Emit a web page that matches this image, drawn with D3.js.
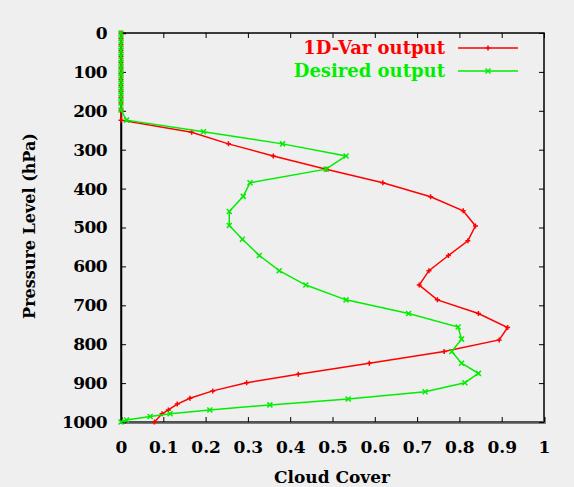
<!DOCTYPE html>
<html>
<head>
<meta charset="utf-8">
<script src="https://cdn.jsdelivr.net/npm/d3@7"></script>
<style>
  body { margin: 0; background: #efefef; }
  svg { display: block; }
  text { font-family: "DejaVu Serif", "Liberation Serif", serif; font-weight: bold; }
</style>
</head>
<body>
<svg id="chart" width="574" height="487"></svg>
<script>
// pressure levels (hPa) and cloud cover for each profile
const varPressure = [0, 15, 30, 45, 60, 75, 90, 105, 120, 135, 150, 165, 180, 198, 224, 255, 285, 316, 350, 385, 421, 457, 496, 534, 572, 611, 648, 686, 721, 757, 789, 819, 849, 877, 899, 920, 939, 954, 969, 979, 1000];
const varCloud = [0, 0, 0, 0, 0, 0, 0, 0, 0, 0, 0, 0, 0, 0, 0, 0.167, 0.254, 0.36, 0.485, 0.619, 0.732, 0.809, 0.838, 0.82, 0.774, 0.728, 0.705, 0.748, 0.845, 0.914, 0.894, 0.764, 0.587, 0.419, 0.297, 0.217, 0.163, 0.133, 0.112, 0.097, 0.079];

const desPressure = [0, 15, 30, 45, 60, 75, 90, 105, 120, 135, 150, 165, 180, 198, 224, 254, 285, 316, 350, 385, 420, 459, 495, 530, 572, 611, 648, 686, 721, 756, 787, 819, 849, 875, 899, 922, 941, 956, 969, 979, 986, 995, 1000];
const desCloud = [0, 0, 0, 0, 0, 0, 0, 0, 0, 0, 0, 0, 0, 0, 0.013, 0.195, 0.382, 0.532, 0.485, 0.305, 0.289, 0.256, 0.256, 0.287, 0.327, 0.374, 0.437, 0.532, 0.68, 0.797, 0.805, 0.782, 0.805, 0.845, 0.813, 0.719, 0.537, 0.352, 0.21, 0.116, 0.069, 0.013, 0];

const xTicks = [0, 0.1, 0.2, 0.3, 0.4, 0.5, 0.6, 0.7, 0.8, 0.9, 1];
const yTicks = [0, 100, 200, 300, 400, 500, 600, 700, 800, 900, 1000];

const series = [
  { name: "1D-Var output", color: "#ff0000", mark: "plus", p: varPressure, c: varCloud },
  { name: "Desired output", color: "#00ee00", mark: "cross", p: desPressure, c: desCloud }
];

const svg = d3.select("#chart");
const margin = { top: 33, right: 30, bottom: 65, left: 121 };
const width = 574, height = 487;

const x = d3.scaleLinear().domain([0, 1]).range([margin.left, width - margin.right]);
const y = d3.scaleLinear().domain([0, 1000]).range([margin.top, height - margin.bottom]);

// plot frame
svg.append("rect")
  .attr("x", x(0)).attr("y", y(0))
  .attr("width", x(1) - x(0)).attr("height", y(1000) - y(0))
  .attr("fill", "none").attr("stroke", "#000").attr("stroke-width", 1.5);

// inward ticks on all four sides
const tickLen = 5;
svg.append("g")
  .attr("transform", `translate(0,${y(1000)})`)
  .call(d3.axisBottom(x).tickValues(xTicks).tickSize(-tickLen).tickFormat(d3.format("")).tickPadding(19))
  .call(g => g.select(".domain").attr("stroke", "#555").attr("stroke-width", 2.5))
  .call(g => g.selectAll("text").attr("font-size", 17).attr("fill", "#000"));

svg.append("g")
  .attr("transform", `translate(0,${y(0)})`)
  .call(d3.axisTop(x).tickValues(xTicks).tickSize(-tickLen).tickFormat(""))
  .call(g => g.select(".domain").remove());

svg.append("g")
  .attr("transform", `translate(${x(0)},0)`)
  .call(d3.axisLeft(y).tickValues(yTicks).tickSize(-tickLen).tickPadding(14).tickFormat(d3.format("d")))
  .call(g => g.select(".domain").attr("stroke", "#000").attr("stroke-width", 1.5))
  .call(g => g.selectAll("text").attr("font-size", 17).attr("fill", "#000").attr("letter-spacing", -0.6));

svg.append("g")
  .attr("transform", `translate(${x(1)},0)`)
  .call(d3.axisRight(y).tickValues(yTicks).tickSize(-tickLen).tickFormat(""))
  .call(g => g.select(".domain").remove());

// axis titles
svg.append("text")
  .attr("x", 332).attr("y", 483)
  .attr("text-anchor", "middle").attr("font-size", 17)
  .text("Cloud Cover");

svg.append("text")
  .attr("transform", `translate(35,226) rotate(-90)`)
  .attr("text-anchor", "middle").attr("font-size", 16)
  .text("Pressure Level (hPa)");

// lines + markers
const line = d3.line().x(d => x(d[1])).y(d => y(d[0]));
const ms = 2.5;
function drawMark(g, mark, color) {
  const path = mark === "plus"
    ? `M${-ms},0H${ms}M0,${-ms}V${ms}`
    : `M${-ms},${-ms}L${ms},${ms}M${-ms},${ms}L${ms},${-ms}`;
  g.append("path").attr("d", path).attr("stroke", color).attr("stroke-width", 1.5).attr("fill", "none");
}

series.forEach(s => {
  const pts = s.p.map((p, i) => [p, s.c[i]]);
  svg.append("path")
    .datum(pts)
    .attr("fill", "none").attr("stroke", s.color).attr("stroke-width", 1.5)
    .attr("d", line);
  svg.append("g").selectAll("g")
    .data(pts)
    .join("g")
    .attr("transform", d => `translate(${x(d[1])},${y(d[0])})`)
    .each(function () { drawMark(d3.select(this), s.mark, s.color); });
});

// legend
const legend = svg.append("g");
series.forEach((s, i) => {
  const ly = 48 + i * 23;
  legend.append("text")
    .attr("x", 445).attr("y", ly + 6)
    .attr("text-anchor", "end").attr("font-size", 18)
    .attr("fill", s.color)
    .text(s.name);
  legend.append("line")
    .attr("x1", 458).attr("x2", 518).attr("y1", ly).attr("y2", ly)
    .attr("stroke", s.color).attr("stroke-width", 1.5);
  const g = legend.append("g").attr("transform", `translate(488,${ly})`);
  drawMark(g, s.mark, s.color);
});
</script>
</body>
</html>
